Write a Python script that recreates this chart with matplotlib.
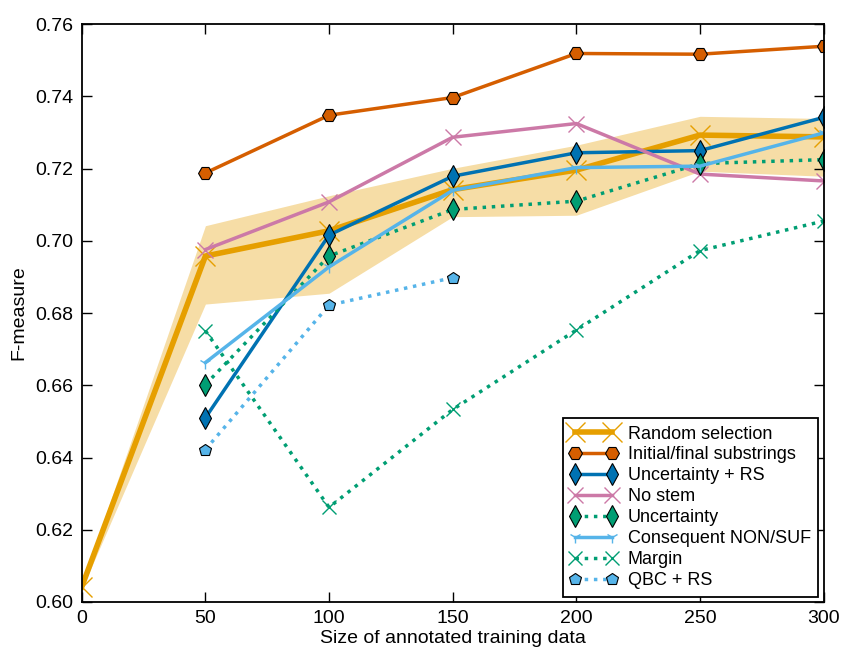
import matplotlib
matplotlib.use("Agg")
from matplotlib import pyplot as plt
import numpy as np

plt.rcParams['font.family'] = ['Liberation Sans', 'DejaVu Sans']

sizes = [0, 50, 100, 150, 200, 250, 300]
sizes_al = [50, 100, 150, 200, 250, 300]

random_sel = [0.6042, 0.6958, 0.7028, 0.7142, 0.7196, 0.7293, 0.7288]
random_low = [0.6035, 0.6825, 0.6855, 0.7067, 0.7071, 0.7193, 0.7179]
random_high = [0.6050, 0.7042, 0.7125, 0.7201, 0.7265, 0.7345, 0.7339]

initial_final = [0.7188, 0.7348, 0.7397, 0.7519, 0.7517, 0.7539]
unc_rs = [0.6510, 0.7016, 0.7179, 0.7244, 0.7250, 0.7342]
no_stem = [0.6976, 0.7108, 0.7287, 0.7325, 0.7185, 0.7166]
uncertainty = [0.6602, 0.6958, 0.7087, 0.7110, 0.7214, 0.7225]
consequent = [0.6663, 0.6928, 0.7140, 0.7203, 0.7207, 0.7299]
margin = [0.6751, 0.6262, 0.6533, 0.6753, 0.6973, 0.7055]
qbc_sizes = [50, 100, 150]
qbc_rs = [0.6422, 0.6822, 0.6898]

c_orange = '#E69F00'
c_verm = '#D55E00'
c_blue = '#0072B2'
c_pink = '#CC79A7'
c_green = '#009E73'
c_sky = '#56B4E9'

fig = plt.figure(figsize=(8.43, 6.55), dpi=100)
ax = fig.add_axes([0.097, 0.081, 0.880, 0.882])

ax.fill_between(sizes, random_low, random_high, color=c_orange, alpha=0.35, linewidth=0)
ax.plot(sizes, random_sel, color=c_orange, lw=4, marker='x', ms=15, mew=1,
        label='Random selection')
ax.plot(sizes_al, initial_final, color=c_verm, lw=2.5, marker='H', ms=10,
        mec='black', mew=0.8, label='Initial/final substrings')
ax.plot(sizes_al, unc_rs, color=c_blue, lw=2.5, marker='d', ms=11,
        mec='black', mew=0.8, label='Uncertainty + RS')
ax.plot(sizes_al, no_stem, color=c_pink, lw=2.5, marker='x', ms=12, mew=1,
        label='No stem')
ax.plot(sizes_al, uncertainty, color=c_green, lw=2.5, ls=':', marker='d', ms=11,
        mec='black', mew=0.8, label='Uncertainty')
ax.plot(sizes_al, consequent, color=c_sky, lw=2.5, marker='1', ms=9, mew=1,
        label='Consequent NON/SUF')
ax.plot(sizes_al, margin, color=c_green, lw=2.5, ls=':', marker='x', ms=10, mew=1,
        label='Margin')
ax.plot(qbc_sizes, qbc_rs, color=c_sky, lw=2.5, ls=':', marker='p', ms=9,
        mec='black', mew=0.8, label='QBC + RS')

ax.set_xlim(0, 300)
ax.set_ylim(0.60, 0.76)
ax.set_xticks(range(0, 301, 50))
ax.set_yticks(np.arange(0.60, 0.761, 0.02))
ax.yaxis.set_major_formatter(matplotlib.ticker.FormatStrFormatter('%.2f'))
ax.tick_params(direction='in', top=True, right=True, length=7, width=1,
               labelsize=14, pad=6)
for sp in ax.spines.values():
    sp.set_linewidth(1.3)

ax.set_xlabel('Size of annotated training data', fontsize=14, labelpad=2)
ax.set_ylabel('F-measure', fontsize=14, labelpad=6)

leg = ax.legend(loc='lower right', fontsize=13, fancybox=False, framealpha=1,
                edgecolor='black', numpoints=2, handlelength=2.6,
                borderpad=0.4, labelspacing=0.22, handletextpad=0.6,
                borderaxespad=0.3)
leg.get_frame().set_linewidth(1.3)

fig.savefig('out.png', dpi=100)
